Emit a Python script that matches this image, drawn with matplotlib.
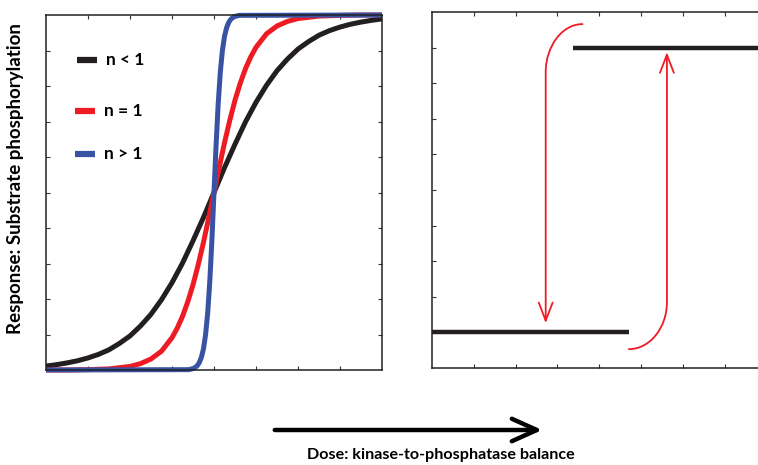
import matplotlib
matplotlib.use('Agg')
import matplotlib.pyplot as plt
from matplotlib.path import Path
from matplotlib.patches import FancyArrowPatch

plt.rcParams['font.family'] = ['Lato', 'DejaVu Sans']

# left panel: dose-response curves (x: 0..8, y: 0..10)
black_x = [0, 0.25, 0.5, 0.75, 1, 1.25, 1.5, 1.75, 2, 2.25, 2.5, 2.75, 3, 3.25, 3.5, 3.75, 4,
           4.25, 4.5, 4.75, 5, 5.25, 5.5, 5.75, 6, 6.25, 6.5, 6.75, 7, 7.25, 7.5, 7.75, 8]
black_y = [0.11, 0.15, 0.2, 0.26, 0.34, 0.44, 0.57, 0.75, 0.96, 1.24, 1.57, 1.98, 2.46, 3.01, 3.64, 4.3, 5.0,
           5.7, 6.36, 6.99, 7.54, 8.02, 8.43, 8.76, 9.04, 9.25, 9.43, 9.56, 9.66, 9.74, 9.8, 9.85, 9.89]

red_x = [0, 0.5, 1, 1.5, 2, 2.25, 2.5, 2.75, 3, 3.125, 3.25, 3.375, 3.5, 3.625, 3.75, 3.875, 4,
         4.125, 4.25, 4.375, 4.5, 4.625, 4.75, 4.875, 5, 5.25, 5.5, 5.75, 6, 6.5, 7, 7.5, 8]
red_y = [0.0, 0.0, 0.01, 0.03, 0.10, 0.18, 0.31, 0.53, 0.91, 1.18, 1.51, 1.92, 2.40, 2.97, 3.60, 4.29, 5.0,
         5.71, 6.40, 7.03, 7.60, 8.08, 8.49, 8.82, 9.09, 9.47, 9.69, 9.82, 9.90, 9.97, 9.99, 10.0, 10.0]

blue_x = [0, 3.4, 3.5, 3.55, 3.6, 3.65, 3.7, 3.75, 3.8, 3.85, 3.9, 3.95, 4.0,
          4.05, 4.1, 4.15, 4.2, 4.25, 4.3, 4.35, 4.4, 4.45, 4.5, 4.6, 8]
blue_y = [0.0, 0.01, 0.04, 0.07, 0.12, 0.21, 0.36, 0.60, 1.0, 1.61, 2.5, 3.66, 5.0,
          6.34, 7.5, 8.39, 9.0, 9.40, 9.64, 9.79, 9.88, 9.93, 9.96, 9.99, 10.0]

labels = ['n < 1', 'n = 1', 'n > 1']
colors = ['#231f20', '#ed1c24', '#3953a4']
# legend rows (axes fraction): handle start, handle end, row height
legend_x0 = [0.092, 0.086, 0.086]
legend_x1 = [0.152, 0.146, 0.146]
legend_y = [0.873, 0.73, 0.608]

# right panel: bistable switch
upper_x = [3.37, 8]
upper_y = [9.0, 9.0]
lower_x = [0, 4.71]
lower_y = [1.0, 1.0]
# red arrows: start, end of bend, tip
down_arrow = [(3.6, 9.66), (2.72, 8.3), (2.72, 1.26)]
up_arrow = [(4.71, 0.53), (5.62, 1.85), (5.62, 8.87)]

ylabel = 'Response: Substrate phosphorylation'
xlabel = 'Dose: kinase-to-phosphatase balance'

fig = plt.figure(figsize=(7.58, 4.65), dpi=100)
W, H = 758, 465
ax1 = fig.add_axes([46 / W, 1 - 370 / H, 336 / W, 355 / H])
ax2 = fig.add_axes([432 / W, 1 - 368 / H, 334.4 / W, 356 / H])

for ax in (ax1, ax2):
    ax.set_xlim(0, 8)
    ax.set_ylim(0, 10)
    ax.set_xticks(range(1, 8))
    ax.set_yticks(range(1, 10))
    ax.tick_params(direction='in', length=3, width=0.8, top=True, right=True,
                   labelbottom=False, labelleft=False, colors='#333333')
    for s in ax.spines.values():
        s.set_linewidth(1.1)
        s.set_color('#222222')

for xs, ys, c in zip([black_x, red_x, blue_x], [black_y, red_y, blue_y], colors):
    ax1.plot(xs, ys, color=c, lw=3.6, solid_capstyle='butt', clip_on=False)

# hand-placed legend, rows are not evenly spaced in the original
for x0, x1, y, c, lab in zip(legend_x0, legend_x1, legend_y, colors, labels):
    ax1.plot([x0, x1], [y, y], color=c, lw=4.5, solid_capstyle='butt', transform=ax1.transAxes)
    ax1.text(x1 + 0.027, y, lab, transform=ax1.transAxes, ha='left', va='center',
             fontsize=12.5, fontweight='bold')

ax2.plot(upper_x, upper_y, color='#231f20', lw=3.2, solid_capstyle='butt', clip_on=False)
ax2.plot(lower_x, lower_y, color='#231f20', lw=3.2, solid_capstyle='butt')

k = 0.55
for (p0, p3, tip) in (down_arrow, up_arrow):
    p1 = (p0[0] + k * (p3[0] - p0[0]), p0[1])
    p2 = (p3[0], p3[1] + k * (p0[1] - p3[1]))
    path = Path([p0, p1, p2, p3, tip],
                [Path.MOVETO, Path.CURVE4, Path.CURVE4, Path.CURVE4, Path.LINETO])
    arr = FancyArrowPatch(path=path, arrowstyle='->,head_length=1.3,head_width=0.5',
                          mutation_scale=10, color='#ed1c24', lw=1.3)
    ax2.add_patch(arr)

fig.text(16 / W, 1 - 179 / H, ylabel, rotation=90, ha='center', va='center',
         fontsize=13.5, fontweight='bold')
fig.text(441 / W, 1 - 455 / H, xlabel, ha='center', va='center',
         fontsize=11.6, fontweight='bold')

dose_arrow = FancyArrowPatch((272 / W, 1 - 430 / H), (545 / W, 1 - 430 / H),
                             transform=fig.transFigure,
                             arrowstyle='->,head_length=1.0,head_width=0.45',
                             mutation_scale=18, color='black', lw=3.2)
fig.add_artist(dose_arrow)

fig.savefig('out.png', dpi=100)
